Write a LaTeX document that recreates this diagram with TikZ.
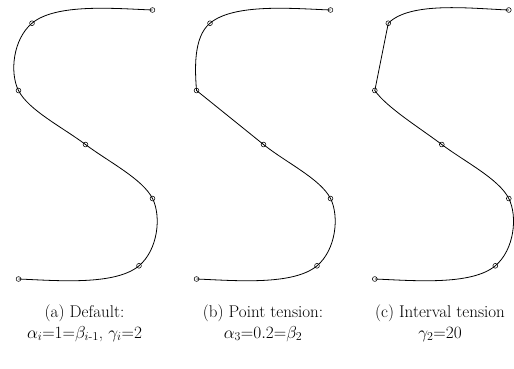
\documentclass[tikz,border=0pt]{standalone}
\usepackage{amsmath}
\begin{document}
\begin{tikzpicture}[x=1pt,y=-1pt,
  curve/.style={line width=0.8pt, line join=round},
  pt/.style={circle, draw, line width=0.55pt, inner sep=0pt, minimum size=4.8pt},
  captext/.style={font=\fontsize{17}{21}\selectfont, align=center, anchor=base}]
\useasboundingbox (0,0) rectangle (514,368);
% ---------- panel (a)
\begin{scope}[shift={(0.5,0)}]
  \node[pt] (a0) at (152,10) {};
  \node[pt] (a1) at (31.5,23.2) {};
  \node[pt] (a2) at (18,90.5) {};
  \node[pt] (a3) at (85,144.5) {};
  \node[pt] (a4) at (152,198.5) {};
  \node[pt] (a5) at (138.5,265.8) {};
  \node[pt] (a6) at (18,279) {};
  \draw[curve] (a0.center) .. controls +(-38,-1.5) and +(24,-20) .. (a1.center)
    .. controls +(-19,16) and +(-9,-17.8) .. (a2.center)
    .. controls +(9.9,19.6) and +(-23.2,-17.4) .. (a3.center)
    .. controls +(23.2,17.4) and +(-9.9,-19.6) .. (a4.center)
    .. controls +(9,17.8) and +(19,-16) .. (a5.center)
    .. controls +(-24,20) and +(38,1.5) .. (a6.center);
\end{scope}
% ---------- panel (b)
\begin{scope}[shift={(178.5,0)}]
  \node[pt] (b0) at (152,10) {};
  \node[pt] (b1) at (31.5,23.2) {};
  \node[pt] (b2) at (18,90.5) {};
  \node[pt] (b3) at (85,144.5) {};
  \node[pt] (b4) at (152,198.5) {};
  \node[pt] (b5) at (138.5,265.8) {};
  \node[pt] (b6) at (18,279) {};
  \draw[curve] (b0.center) .. controls +(-38,-1.5) and +(24,-20) .. (b1.center)
    .. controls +(-17,14) and +(-1.5,-20) .. (b2.center)
    .. controls +(6,4.8) and +(-21.8,-17.6) .. (b3.center)
    .. controls +(21.8,17.6) and +(-9.9,-19.6) .. (b4.center)
    .. controls +(9,17.8) and +(19,-16) .. (b5.center)
    .. controls +(-24,20) and +(38,1.5) .. (b6.center);
\end{scope}
% ---------- panel (c)
\begin{scope}[shift={(356.8,0)}]
  \node[pt] (c0) at (152,10) {};
  \node[pt] (c1) at (31.5,23.2) {};
  \node[pt] (c2) at (18,90.5) {};
  \node[pt] (c3) at (85,144.5) {};
  \node[pt] (c4) at (152,198.5) {};
  \node[pt] (c5) at (138.5,265.8) {};
  \node[pt] (c6) at (18,279) {};
  \draw[curve] (c0.center) .. controls +(-38,-1.5) and +(22,-22) .. (c1.center)
    -- (c2.center)
    .. controls +(12,17) and +(-23.2,-17.4) .. (c3.center)
    .. controls +(23.2,17.4) and +(-9.9,-19.6) .. (c4.center)
    .. controls +(9,17.8) and +(19,-16) .. (c5.center)
    .. controls +(-24,20) and +(38,1.5) .. (c6.center);
\end{scope}
% ---------- captions
\node[captext] (capa) at (84.5,338.3) {(a) Default:\\$\alpha_i{=}1{=}\beta_{i\text{-}1}$, $\gamma_i{=}2$};
\node[captext] (capb) at (263,338.3) {(b) Point tension:\\$\alpha_3{=}0.2{=}\beta_2$};
\node[captext] (capc) at (440,338.3) {(c) Interval tension\\$\gamma_2{=}20$};
\end{tikzpicture}
\end{document}
